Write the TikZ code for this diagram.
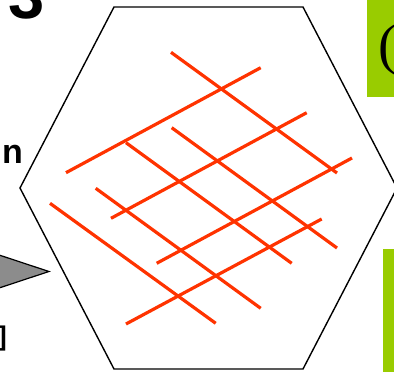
\documentclass[tikz,border=0pt]{standalone}
\usepackage{fontspec}
\setmainfont{Liberation Serif}
\newfontfamily\arialfont{Liberation Sans}
\definecolor{lime}{RGB}{153,204,0}
\definecolor{redline}{RGB}{255,51,0}
\begin{document}
\begin{tikzpicture}[x=1pt,y=-1pt,
  gridline/.style={draw=redline,line width=3.2pt},
  hexline/.style={draw=black,line width=1.4pt,line join=miter},
  greenbox/.style={fill=lime,draw=none},
  boldtext/.style={inner sep=0pt,font=\arialfont\bfseries}]
\useasboundingbox (0,0) rectangle (394,372);
\clip (0,0) rectangle (394,372);
% green boxes
\fill[greenbox] (367,0) rectangle (400,97);
\fill[greenbox] (383,249) rectangle (400,380);
\node[inner sep=0pt,anchor=base west,font=\fontsize{56}{60}\selectfont] (paren) at (378.3,63) {(};
% left texts
\node[boldtext,anchor=base west,font=\arialfont\bfseries\fontsize{65}{70}\selectfont] (three) at (8,18) {3};
\node[boldtext,anchor=base east,font=\arialfont\bfseries\fontsize{34}{40}\selectfont] (nn) at (23,163) {n};
\node[boldtext,anchor=base east,font=\arialfont\bfseries\fontsize{27}{32}\selectfont] (br) at (7,345) {]};
% gray arrow head
\filldraw[fill=black!45,draw=black,line width=1.2pt] (-10,252) -- (49,271.5) -- (-10,291) -- cycle;
% hexagon
\draw[hexline] (114,7) -- (303,7) -- (397,188) -- (303,369) -- (114,369) -- (20,188) -- cycle;
% grid lines, up-right family
\coordinate (a1) at (66,172.7);   \coordinate (b1) at (260.7,67.7);
\coordinate (a2) at (111,218.3);  \coordinate (b2) at (306.7,112.7);
\coordinate (a3) at (156.7,263.3);\coordinate (b3) at (352,158);
\coordinate (a4) at (126,324);    \coordinate (b4) at (321.7,219);
% down-right family
\coordinate (c1) at (171,52.3);   \coordinate (d1) at (337,173);
\coordinate (c2) at (171.7,127.7);\coordinate (d2) at (337,248);
\coordinate (c3) at (126,142.7);  \coordinate (d3) at (291.7,263.3);
\coordinate (c4) at (95.7,188.3); \coordinate (d4) at (260.7,308.3);
\coordinate (c5) at (50,203.3);   \coordinate (d5) at (215.7,323.3);
\foreach \i in {1,...,4} {\draw[gridline] (a\i) -- (b\i);}
\foreach \i in {1,...,5} {\draw[gridline] (c\i) -- (d\i);}
\end{tikzpicture}
\end{document}
